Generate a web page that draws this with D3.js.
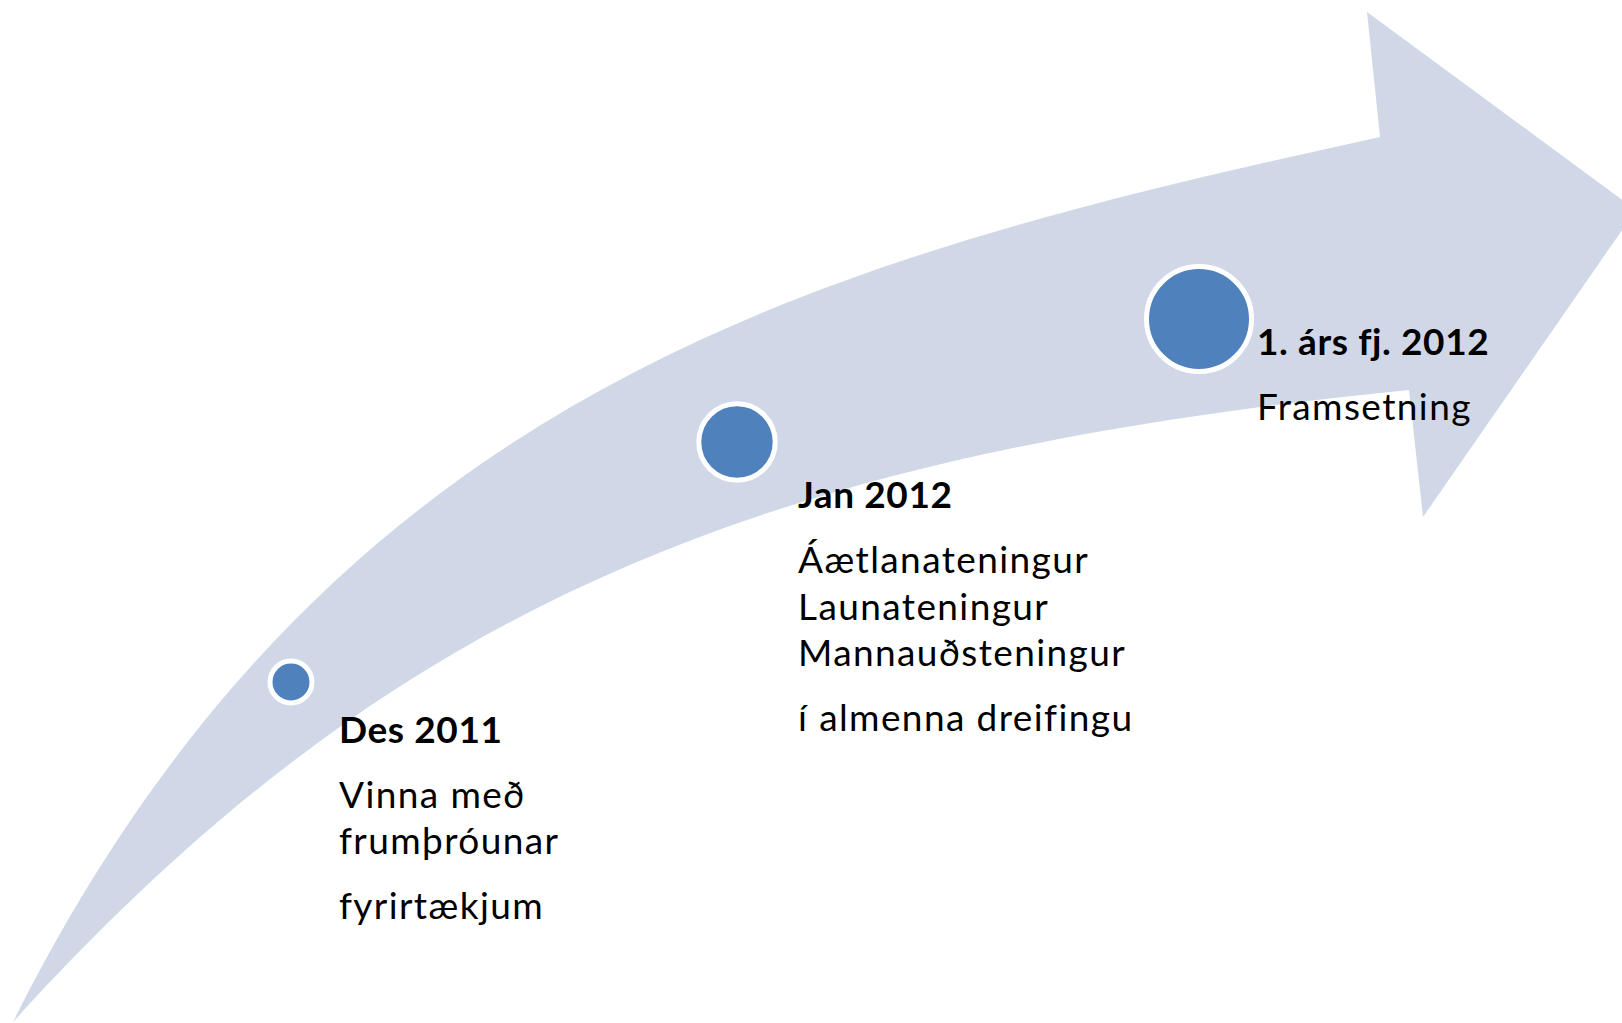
<!DOCTYPE html>
<html>
<head>
<meta charset="utf-8">
<style>
    body {
        margin: 0;
        background: #fff;
    }

    svg {
        display: block;
    }

    .band {
        fill: #d0d8e8;
        stroke: none;
    }

    .dot {
        fill: #4f81bd;
        stroke: #fff;
        stroke-width: 5px;
    }

    .title {
        font: bold 37px Lato, sans-serif;
        letter-spacing: 0.6px;
        fill: #000;
    }

    .note {
        font: 37px Lato, sans-serif;
        letter-spacing: 1.4px;
        fill: #000;
    }
</style>
</head>
<body>
<div id="chart"></div>
<script src="https://d3js.org/d3.v7.min.js"></script>
<script>

    const widthValue = 1622;
    const heightValue = 1023;

    // Milestones along the arrow
    const titles = ["Des 2011", "Jan 2012", "1. árs fj. 2012"];
    // each milestone: list of paragraphs, each paragraph a list of lines
    const notes = [
        [["Vinna með", "frumþróunar"], ["fyrirtækjum"]],
        [["Áætlanateningur", "Launateningur", "Mannauðsteningur"], ["í almenna dreifingu"]],
        [["Framsetning"]]
    ];

    // Arrow outline in design units: each edge is one cubic (start, c1, c2, end)
    const upperEdge = [[13, 1022], [333, 382], [830, 258], [1380, 137]];
    const arrowHead = [[1367, 12], [1636, 210], [1423, 517], [1409, 390]];
    const lowerEdge = [[13, 1022], [393, 604], [759, 455], [1409, 390]];

    const svg = d3.select("#chart")
        .append("svg")
        .attr("width", widthValue)
        .attr("height", heightValue);

    // design units -> pixels
    const x = d3.scaleLinear().domain([0, 1622]).range([0, widthValue]);
    const y = d3.scaleLinear().domain([0, 1023]).range([0, heightValue]);

    // where each milestone sits (by step index)
    const dotX = d3.scaleLinear().domain([0, 1, 2]).range([291, 737, 1199]);
    const dotY = d3.scaleLinear().domain([0, 1, 2]).range([682, 442, 319]);
    const dotR = d3.scaleLinear().domain([0, 1, 2]).range([21, 38.2, 52.5]);
    const textX = d3.scaleLinear().domain([0, 1, 2]).range([339, 798, 1257]);
    const textY = d3.scaleLinear().domain([0, 1, 2]).range([742.7, 508.3, 355]);

    const lineGap = 46.5;
    const paraGap = 65;

    // the band
    const p = d3.path();
    const u = upperEdge.map(function (d) { return [x(d[0]), y(d[1])]; });
    const l = lowerEdge.map(function (d) { return [x(d[0]), y(d[1])]; }).reverse();
    p.moveTo(u[0][0], u[0][1]);
    p.bezierCurveTo(u[1][0], u[1][1], u[2][0], u[2][1], u[3][0], u[3][1]);
    arrowHead.forEach(function (d) { p.lineTo(x(d[0]), y(d[1])); });
    p.bezierCurveTo(l[1][0], l[1][1], l[2][0], l[2][1], l[3][0], l[3][1]);
    p.closePath();

    svg.append("path")
        .attr("class", "band")
        .attr("d", p.toString());

    const steps = titles.map(function (t, i) {
        return { title: t, notes: notes[i], i: i };
    });

    svg.selectAll(".dot")
        .data(steps)
        .enter().append("circle")
        .attr("class", "dot")
        .attr("cx", function (d) { return x(dotX(d.i)); })
        .attr("cy", function (d) { return y(dotY(d.i)); })
        .attr("r", function (d) { return dotR(d.i); });

    const label = svg.selectAll(".label")
        .data(steps)
        .enter().append("g")
        .attr("class", "label")
        .attr("transform", function (d) { return "translate(" + x(textX(d.i)) + "," + y(textY(d.i)) + ")"; });

    label.append("text")
        .attr("class", "title")
        .text(function (d) { return d.title; });

    label.each(function (d) {
        const g = d3.select(this);
        let offset = 0;
        d.notes.forEach(function (para) {
            para.forEach(function (ln, k) {
                offset += (k === 0) ? paraGap : lineGap;
                g.append("text")
                    .attr("class", "note")
                    .attr("y", offset)
                    .text(ln);
            });
        });
    });

</script>
</body>
</html>
